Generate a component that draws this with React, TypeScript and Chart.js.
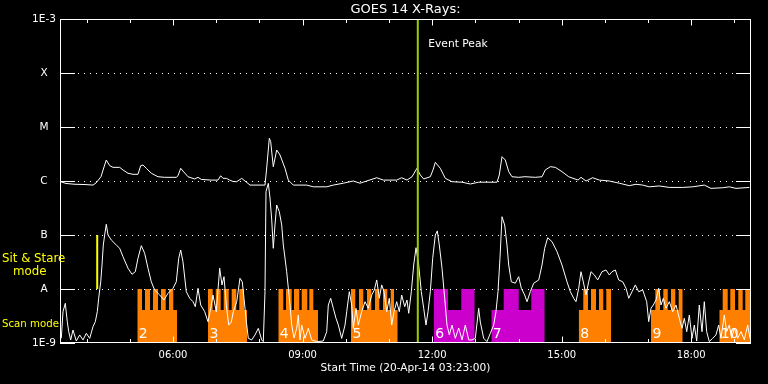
import React, { useEffect, useRef } from 'react';
import { Chart, registerables } from 'chart.js';

Chart.register(...registerables);
Chart.defaults.font.family = "'DejaVu Sans', sans-serif";

// ---- axes ----
const startHour = 3 + 23 / 60; // 03:23
const spanHours = 16;
const xTickValues = [6, 9, 12, 15, 18];
const xTickLabels = ['06:00', '09:00', '12:00', '15:00', '18:00'];
const yTickValues = [1e-9, 1e-8, 1e-7, 1e-6, 1e-5, 1e-4, 1e-3];
const yTickLabels = ['1E-9', 'A', 'B', 'C', 'M', 'X', '1E-3'];

// ---- GOES long channel (1-8 A): [hour, flux] ----
const longChannel: [number, number][] = [
  [3.399, 9.7e-7], [3.522, 9.0e-7], [3.731, 8.7e-7], [3.962, 8.6e-7], [4.147, 8.4e-7], [4.217, 9.2e-7],
  [4.333, 1.2e-6], [4.395, 1.74e-6], [4.455, 2.45e-6], [4.534, 1.92e-6], [4.611, 1.79e-6], [4.766, 1.79e-6],
  [4.842, 1.6e-6], [4.958, 1.39e-6], [5.074, 1.33e-6], [5.189, 1.33e-6], [5.252, 1.92e-6], [5.305, 1.98e-6],
  [5.382, 1.72e-6], [5.497, 1.39e-6], [5.652, 1.2e-6], [5.808, 1.17e-6], [6.076, 1.17e-6], [6.116, 1.25e-6],
  [6.178, 1.72e-6], [6.231, 1.53e-6], [6.347, 1.2e-6], [6.502, 1.09e-6], [6.579, 1.17e-6], [6.655, 1.07e-6],
  [6.880, 1.04e-6], [7.042, 1.04e-6], [7.104, 1.25e-6], [7.158, 1.12e-6], [7.234, 1.12e-6], [7.313, 1.04e-6],
  [7.389, 9.8e-7], [7.475, 9.7e-7], [7.591, 1.12e-6], [7.667, 1.0e-6], [7.783, 8.4e-7], [8.130, 8.4e-7],
  [8.165, 1.6e-6], [8.230, 6.18e-6], [8.262, 5.34e-6], [8.322, 1.84e-6], [8.401, 3.75e-6], [8.478, 3.03e-6],
  [8.593, 1.72e-6], [8.670, 1.04e-6], [8.786, 8.4e-7], [9.096, 8.4e-7], [9.249, 7.8e-7], [9.559, 7.8e-7],
  [9.712, 8.4e-7], [9.943, 9.1e-7], [10.175, 1.0e-6], [10.330, 9.1e-7], [10.485, 1.0e-6], [10.717, 1.15e-6],
  [10.870, 1.04e-6], [11.024, 1.04e-6], [11.180, 1.04e-6], [11.295, 1.15e-6], [11.418, 1.04e-6], [11.534, 1.2e-6],
  [11.649, 1.72e-6], [11.726, 1.29e-6], [11.805, 1.09e-6], [11.958, 1.2e-6], [12.020, 1.6e-6], [12.074, 2.22e-6],
  [12.189, 1.72e-6], [12.305, 1.12e-6], [12.460, 9.7e-7], [12.691, 9.5e-7], [12.884, 8.8e-7], [13.078, 9.5e-7],
  [13.502, 9.5e-7], [13.555, 1.29e-6], [13.618, 2.82e-6], [13.694, 2.45e-6], [13.773, 1.49e-6], [13.849, 1.2e-6],
  [14.004, 1.17e-6], [14.150, 1.2e-6], [14.389, 1.17e-6], [14.544, 1.2e-6], [14.620, 1.6e-6], [14.736, 1.84e-6],
  [14.852, 1.79e-6], [15.007, 1.49e-6], [15.162, 1.2e-6], [15.378, 1.04e-6], [15.447, 1.17e-6], [15.563, 1.0e-6],
  [15.718, 1.15e-6], [15.871, 1.04e-6], [16.103, 1.0e-6], [16.334, 9.1e-7], [16.565, 8.2e-7], [16.721, 8.7e-7],
  [16.876, 8.4e-7], [17.028, 7.8e-7], [17.260, 8.1e-7], [17.492, 7.6e-7], [17.802, 7.6e-7], [18.034, 7.8e-7],
  [18.302, 8.4e-7], [18.457, 7.3e-7], [18.728, 7.5e-7], [18.881, 7.8e-7], [19.036, 7.3e-7], [19.344, 7.6e-7],
];

// ---- GOES short channel (0.5-4 A): [hour, flux] ----
const shortChannel: [number, number][] = [
  [3.413, 1.22e-9], [3.453, 3.8e-9], [3.506, 5.43e-9], [3.552, 2.48e-9], [3.585, 1.62e-9], [3.631, 1.14e-9],
  [3.684, 1.74e-9], [3.761, 1.09e-9], [3.839, 1.41e-9], [3.916, 1.14e-9], [3.992, 1.51e-9], [4.071, 1.22e-9],
  [4.147, 2.0e-9], [4.201, 2.48e-9], [4.247, 3.8e-9], [4.279, 6.73e-9], [4.326, 1.36e-8], [4.356, 2.78e-8],
  [4.386, 6.53e-8], [4.418, 1.0e-7], [4.455, 1.58e-7], [4.495, 1.0e-7], [4.571, 8.08e-8], [4.687, 6.53e-8],
  [4.766, 5.67e-8], [4.842, 3.96e-8], [4.958, 2.42e-8], [5.051, 1.87e-8], [5.127, 2.09e-8], [5.189, 3.7e-8],
  [5.266, 6.34e-8], [5.344, 4.58e-8], [5.421, 2.42e-8], [5.497, 1.36e-8], [5.576, 9.58e-9], [5.692, 7.74e-9],
  [5.791, 6.25e-9], [5.884, 8.32e-9], [6.000, 1.03e-8], [6.076, 1.36e-8], [6.132, 3.7e-8], [6.178, 5.27e-8],
  [6.231, 3.2e-8], [6.308, 8.91e-9], [6.387, 6.73e-9], [6.463, 5.82e-9], [6.516, 4.7e-9], [6.579, 1.03e-8],
  [6.641, 5.05e-9], [6.734, 3.8e-9], [6.810, 2.48e-9], [6.873, 4.39e-9], [6.926, 7.74e-9], [7.002, 3.8e-9],
  [7.081, 2.42e-8], [7.134, 1.19e-8], [7.181, 1.69e-8], [7.234, 5.05e-9], [7.290, 2.15e-9], [7.350, 2.45e-9],
  [7.396, 3.8e-9], [7.475, 5.82e-9], [7.551, 1.58e-8], [7.604, 1.36e-8], [7.644, 6.73e-9], [7.690, 2.87e-9],
  [7.743, 1.22e-9], [7.822, 1.14e-9], [7.899, 1.41e-9], [7.975, 1.87e-9], [8.054, 1.14e-9], [8.091, 1.06e-9],
  [8.130, 8.91e-9], [8.153, 6.34e-7], [8.207, 9.06e-7], [8.246, 4.84e-7], [8.286, 1.9e-7], [8.322, 5.67e-8],
  [8.361, 1.53e-7], [8.401, 3.59e-7], [8.461, 2.7e-7], [8.517, 1.53e-7], [8.554, 6.53e-8], [8.593, 3.75e-8],
  [8.632, 2.09e-8], [8.670, 1.04e-8], [8.709, 5.05e-9], [8.748, 2.15e-9], [8.802, 1.24e-9], [8.864, 1.87e-9],
  [8.901, 3.3e-9], [8.941, 1.14e-9], [8.980, 2.15e-9], [9.056, 1.22e-9], [9.133, 1.87e-9], [9.211, 1.14e-9],
  [9.327, 1.06e-9], [9.480, 1.09e-9], [9.559, 1.62e-9], [9.596, 5.05e-9], [9.651, 6.73e-9], [9.712, 4.39e-9],
  [9.774, 2.87e-9], [9.828, 2.15e-9], [9.906, 1.22e-9], [9.983, 2.15e-9], [10.022, 3.8e-9], [10.082, 8.91e-9],
  [10.138, 5.05e-9], [10.175, 1.87e-9], [10.237, 4.39e-9], [10.290, 2.15e-9], [10.369, 3.8e-9], [10.446, 5.82e-9],
  [10.522, 4.39e-9], [10.601, 7.74e-9], [10.661, 9.58e-9], [10.717, 1.47e-8], [10.777, 6.73e-9], [10.832, 1.19e-8],
  [10.886, 8.91e-9], [10.948, 3.8e-9], [11.008, 6.73e-9], [11.064, 2.15e-9], [11.117, 3.8e-9], [11.180, 5.82e-9],
  [11.240, 3.8e-9], [11.295, 7.74e-9], [11.365, 4.7e-9], [11.418, 6.25e-9], [11.458, 3.55e-9], [11.518, 8.91e-9],
  [11.573, 2.78e-8], [11.627, 5.82e-8], [11.689, 2.78e-8], [11.749, 8.91e-9], [11.805, 4.39e-9], [11.858, 2.15e-9],
  [11.905, 3.8e-9], [11.958, 8.91e-9], [12.013, 3.7e-8], [12.074, 1.0e-7], [12.120, 1.19e-7], [12.166, 6.53e-8],
  [12.229, 2.42e-8], [12.291, 6.73e-9], [12.344, 2.15e-9], [12.398, 1.41e-9], [12.460, 2.15e-9], [12.537, 1.22e-9],
  [12.615, 1.9e-9], [12.692, 1.14e-9], [12.768, 2.15e-9], [12.847, 1.14e-9], [12.923, 1.14e-9], [13.000, 1.22e-9],
  [13.078, 4.39e-9], [13.115, 2.45e-9], [13.194, 1.22e-9], [13.270, 1.06e-9], [13.347, 1.51e-9], [13.425, 2.15e-9],
  [13.478, 3.8e-9], [13.525, 8.91e-9], [13.571, 3.7e-8], [13.618, 2.18e-7], [13.680, 1.53e-7], [13.733, 6.53e-8],
  [13.773, 2.78e-8], [13.833, 1.36e-8], [13.926, 1.28e-8], [14.004, 1.69e-8], [14.065, 1.03e-8], [14.143, 7.74e-9],
  [14.197, 5.82e-9], [14.273, 8.91e-9], [14.352, 1.28e-8], [14.468, 1.47e-8], [14.544, 2.78e-8], [14.606, 5.67e-8],
  [14.676, 8.91e-8], [14.776, 7.51e-8], [14.892, 4.91e-8], [15.007, 2.78e-8], [15.123, 1.36e-8], [15.200, 8.91e-9],
  [15.278, 6.73e-9], [15.331, 5.82e-9], [15.394, 1.03e-8], [15.447, 2.09e-8], [15.500, 1.36e-8], [15.563, 7.74e-9],
  [15.625, 1.36e-8], [15.679, 2.09e-8], [15.755, 1.82e-8], [15.834, 1.47e-8], [15.933, 2.09e-8], [16.026, 2.25e-8],
  [16.103, 1.82e-8], [16.165, 2.09e-8], [16.242, 2.25e-8], [16.320, 1.47e-8], [16.413, 1.36e-8], [16.490, 1.03e-8],
  [16.552, 6.73e-9], [16.628, 8.91e-9], [16.705, 1.19e-8], [16.783, 8.91e-9], [16.876, 9.58e-9], [16.968, 5.82e-9],
  [17.015, 2.48e-9], [17.068, 4.39e-9], [17.121, 5.05e-9], [17.184, 6.25e-9], [17.246, 1.03e-8], [17.299, 5.05e-9],
  [17.353, 6.73e-9], [17.415, 4.39e-9], [17.492, 5.82e-9], [17.570, 3.8e-9], [17.647, 5.05e-9], [17.723, 2.87e-9],
  [17.786, 1.87e-9], [17.839, 2.87e-9], [17.895, 1.62e-9], [17.955, 3.3e-9], [18.017, 1.22e-9], [18.071, 2.15e-9],
  [18.126, 1.09e-9], [18.186, 5.05e-9], [18.249, 1.62e-9], [18.302, 5.82e-9], [18.357, 1.62e-9], [18.417, 1.06e-9],
  [18.495, 1.22e-9], [18.572, 1.41e-9], [18.635, 2.15e-9], [18.688, 1.22e-9], [18.765, 3.3e-9], [18.820, 1.62e-9],
  [18.881, 2.15e-9], [18.936, 1.22e-9], [18.996, 1.87e-9], [19.075, 1.22e-9], [19.152, 1.62e-9], [19.228, 1.14e-9],
  [19.307, 2.15e-9], [19.360, 1.22e-9],
];

// ---- observation blocks ----
const blockLabels = ['2', '3', '4', '5', '6', '7', '8', '9', '10'];
const blockKinds = ['scan', 'scan', 'scan', 'scan', 'other', 'other', 'scan', 'scan', 'scan'];
const blockSpans: [number, number][] = [
  [5.173, 6.092], [6.810, 7.713], [8.438, 9.357], [10.121, 11.203], [12.036, 12.986],
  [13.370, 14.607], [15.394, 16.142], [17.068, 17.802], [18.649, 19.383],
];
const blockFullSegments: [number, number][][] = [
  [[5.173, 5.282], [5.352, 5.467], [5.537, 5.653], [5.722, 5.831], [5.907, 6.007]],
  [[6.810, 6.919], [6.989, 7.104], [7.174, 7.290], [7.359, 7.466], [7.535, 7.644]],
  [[8.438, 8.554], [8.616, 8.748], [8.802, 8.924], [8.980, 9.110], [9.156, 9.249]],
  [[10.121, 10.221], [10.307, 10.406], [10.492, 10.592], [10.677, 10.777], [10.862, 10.962], [11.041, 11.117]],
  [[12.036, 12.367], [12.675, 12.986]],
  [[13.657, 14.005], [14.296, 14.607]],
  [[15.500, 15.609], [15.679, 15.794], [15.864, 15.963], [16.033, 16.142]],
  [[17.168, 17.276], [17.353, 17.455], [17.531, 17.631], [17.709, 17.802]],
  [[18.728, 18.844], [18.904, 19.013], [19.089, 19.191], [19.251, 19.383]],
];
const blockFullLevel = 1e-8;
const blockBaseLevel = 4.1e-9;

// sit & stare marker and event peak
const sitStareTimes = [4.245];
const sitStareRange: [number, number] = [1e-8, 1e-7];
const eventPeakTime = 11.668;

const ORANGE = '#ff8000';
const MAGENTA = '#cc00cc';
const YELLOW = '#ffff00';
const GREEN = '#9acd00';

function blockOutline(span: [number, number], full: [number, number][]) {
  const pts: { x: number; y: number }[] = [];
  let cur = span[0];
  for (const [s, e] of full) {
    if (s > cur) pts.push({ x: cur, y: blockBaseLevel }, { x: s, y: blockBaseLevel });
    pts.push({ x: s, y: blockFullLevel }, { x: e, y: blockFullLevel });
    cur = e;
  }
  if (cur < span[1]) pts.push({ x: cur, y: blockBaseLevel }, { x: span[1], y: blockBaseLevel });
  return pts;
}

const decoPlugin = {
  id: 'deco',
  beforeDraw(chart: any) {
    const { ctx, width, height } = chart;
    ctx.save();
    ctx.fillStyle = '#000';
    ctx.fillRect(0, 0, width, height);
    ctx.restore();
  },
  beforeDatasetsDraw(chart: any) {
    const { ctx, chartArea: a, scales } = chart;
    const y = scales.y;
    ctx.save();
    ctx.strokeStyle = '#fff';
    ctx.lineWidth = 1;
    ctx.setLineDash([1, 5]);
    for (const v of yTickValues.slice(1, -1)) {
      const py = Math.round(y.getPixelForValue(v)) + 0.5;
      ctx.beginPath();
      ctx.moveTo(a.left, py);
      ctx.lineTo(a.right, py);
      ctx.stroke();
    }
    ctx.restore();
  },
  afterDatasetsDraw(chart: any) {
    const { ctx, chartArea: a, scales } = chart;
    const x = scales.x;
    const y = scales.y;
    ctx.save();
    ctx.strokeStyle = '#fff';
    ctx.lineWidth = 1;
    ctx.setLineDash([]);
    // frame
    ctx.strokeRect(a.left + 0.5, a.top + 0.5, a.right - a.left - 1, a.bottom - a.top - 1);
    // y ticks both sides
    ctx.beginPath();
    for (const v of yTickValues) {
      const py = Math.round(y.getPixelForValue(v)) + 0.5;
      ctx.moveTo(a.left, py);
      ctx.lineTo(a.left + 15, py);
      ctx.moveTo(a.right - 15, py);
      ctx.lineTo(a.right, py);
    }
    // x ticks top & bottom (hourly, longer on labelled hours)
    for (let h = Math.ceil(x.min); h <= Math.floor(x.max); h++) {
      const px = Math.round(x.getPixelForValue(h)) + 0.5;
      const len = xTickValues.includes(h) ? 6.5 : 4;
      ctx.moveTo(px, a.top);
      ctx.lineTo(px, a.top + len);
      ctx.moveTo(px, a.bottom);
      ctx.lineTo(px, a.bottom - len);
    }
    ctx.stroke();

    // block numbers
    ctx.fillStyle = '#fff';
    ctx.font = "14px 'DejaVu Sans', sans-serif";
    ctx.textBaseline = 'alphabetic';
    ctx.textAlign = 'left';
    blockSpans.forEach((sp, i) => {
      ctx.fillText(blockLabels[i], x.getPixelForValue(sp[0]) + 1.5, a.bottom - 5);
    });

    // event peak label
    ctx.font = "10.7px 'DejaVu Sans', sans-serif";
    ctx.fillText('Event Peak', x.getPixelForValue(eventPeakTime) + 10.5, a.top + 28);

    // mode labels
    ctx.fillStyle = YELLOW;
    const yB = y.getPixelForValue(1e-7);
    const yA = y.getPixelForValue(1e-8);
    ctx.font = "11.8px 'DejaVu Sans', sans-serif";
    ctx.fillText('Sit & Stare', 2, yB + 27);
    ctx.fillText('mode', 13, yB + 40);
    ctx.font = "10.2px 'DejaVu Sans', sans-serif";
    ctx.fillText('Scan mode', 2, yA + 38);
    ctx.restore();
  },
};

export default function App() {
  const ref = useRef<HTMLCanvasElement>(null);
  useEffect(() => {
    document.body.style.margin = '0';
    document.body.style.background = '#000';
    const canvas = ref.current!;

    const datasets: any[] = [];
    blockSpans.forEach((sp, i) => {
      const color = blockKinds[i] === 'scan' ? ORANGE : MAGENTA;
      datasets.push({
        data: blockOutline(sp, blockFullSegments[i]),
        borderWidth: 0,
        borderColor: 'rgba(0,0,0,0)',
        backgroundColor: color,
        fill: 'start',
        order: 10,
      });
    });
    sitStareTimes.forEach((t) => {
      datasets.push({
        data: [{ x: t, y: sitStareRange[0] }, { x: t, y: sitStareRange[1] }],
        borderColor: YELLOW,
        borderWidth: 2,
        fill: false,
        order: 4,
      });
    });
    datasets.push({
      data: shortChannel.map(([t, f]) => ({ x: t, y: f })),
      borderColor: '#fff',
      borderWidth: 1,
      fill: false,
      order: 3,
    });
    datasets.push({
      data: longChannel.map(([t, f]) => ({ x: t, y: f })),
      borderColor: '#fff',
      borderWidth: 1,
      fill: false,
      order: 2,
    });
    datasets.push({
      data: [{ x: eventPeakTime, y: yTickValues[0] }, { x: eventPeakTime, y: yTickValues[yTickValues.length - 1] }],
      borderColor: GREEN,
      borderWidth: 2,
      fill: false,
      order: 1,
    });

    const chart = new Chart(canvas, {
      type: 'line',
      data: { datasets },
      plugins: [decoPlugin],
      options: {
        responsive: false,
        animation: false,
        events: [],
        layout: { padding: { right: 17, left: 0, top: 0, bottom: 0 } },
        elements: { point: { radius: 0 }, line: { tension: 0 } },
        plugins: {
          legend: { display: false },
          tooltip: { enabled: false },
          title: {
            display: true,
            text: 'GOES 14 X-Rays:',
            color: '#fff',
            fullSize: false,
            font: { size: 13, weight: 'normal', lineHeight: 1.2 },
            padding: { top: 2, bottom: 1.4 },
          },
        },
        scales: {
          x: {
            type: 'linear',
            min: startHour,
            max: startHour + spanHours,
            grid: { display: false, drawTicks: false },
            border: { display: false },
            afterBuildTicks: (s: any) => {
              s.ticks = xTickValues.map((v) => ({ value: v }));
            },
            afterFit: (s: any) => {
              s.height = 41;
            },
            ticks: {
              color: '#fff',
              font: { size: 10 },
              padding: 6.5,
              maxRotation: 0,
              autoSkip: false,
              callback: (_v: any, i: number) => xTickLabels[i],
            },
            title: {
              display: true,
              text: 'Start Time (20-Apr-14 03:23:00)',
              color: '#fff',
              font: { size: 10.6 },
              padding: { top: 0, bottom: 9.7 },
            },
          },
          y: {
            type: 'logarithmic',
            min: yTickValues[0],
            max: yTickValues[yTickValues.length - 1],
            grid: { display: false, drawTicks: false },
            border: { display: false },
            afterBuildTicks: (s: any) => {
              s.ticks = yTickValues.map((v) => ({ value: v }));
            },
            afterFit: (s: any) => {
              s.width = 60;
            },
            ticks: {
              color: '#fff',
              font: { size: 10.5 },
              padding: 4.1,
              crossAlign: 'center',
              autoSkip: false,
              callback: (_v: any, i: number) => yTickLabels[i],
            },
          },
        },
      } as any,
    });
    return () => chart.destroy();
  }, []);
  return <canvas ref={ref} width={768} height={384} style={{ display: 'block', width: 768, height: 384 }} />;
}
